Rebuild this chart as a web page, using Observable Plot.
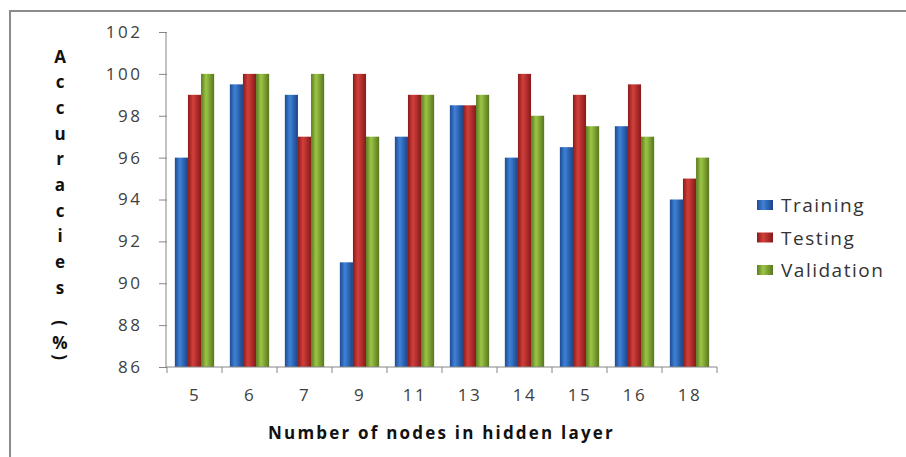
<!DOCTYPE html>
<html><head><meta charset="utf-8">
<script src="https://cdn.jsdelivr.net/npm/d3@7"></script>
<script src="https://cdn.jsdelivr.net/npm/@observablehq/plot@0.6"></script>
<style>
body{margin:0;background:#fff;}
svg text{font-family:"Open Sans",sans-serif;}
</style>
</head><body><div id="chart"></div>
<script>
const nodes = ["5","6","7","9","11","13","14","15","16","18"];
const seriesNames = ["Training","Testing","Validation"];
const training = [96, 99.5, 99, 91, 97, 98.5, 96, 96.5, 97.5, 94];
const testing = [99, 100, 97, 100, 99, 98.5, 100, 99, 99.5, 95];
const validation = [100, 100, 100, 97, 99, 99, 98, 97.5, 97, 96];
const yTicks = [86, 88, 90, 92, 94, 96, 98, 100, 102];
const yTitleChars = ["A","c","c","u","r","a","c","i","e","s"];
const xTitle = "Number of nodes in hidden layer";

const gradStops = {
  Training: ["#1d4a92", "#3f82d8", "#1a4386"],
  Testing: ["#8a1b1a", "#d23f3b", "#861a19"],
  Validation: ["#5b7b1f", "#9cc646", "#58761e"]
};
const gradId = s => "grad-" + s;

const values = {Training: training, Testing: testing, Validation: validation};
const table = nodes.flatMap((n, i) => seriesNames.map(s => ({node: n, series: s, value: values[s][i]})));

const plot = Plot.plot({
  width: 906,
  height: 457,
  marginTop: 32,
  marginBottom: 90,
  marginLeft: 166,
  marginRight: 189,
  style: {background: "#fff", overflow: "visible"},
  fx: {domain: nodes, padding: 0},
  x: {domain: seriesNames, paddingInner: 0, paddingOuter: 0.6, round: false, axis: null},
  y: {domain: [86, 102]},
  color: {domain: seriesNames, range: seriesNames.map(s => `url(#${gradId(s)})`)},
  marks: [
    Plot.barY(table, {fx: "node", x: "series", y1: 86, y2: "value", fill: "series", inset: 0}),
    Plot.axisY({ticks: yTicks, tickSize: 8, tickPadding: 17, fontSize: 17, stroke: "#868686", fill: "#404040", label: null}),
    Plot.axisFx({anchor: "bottom", tickSize: 0, tickPadding: 21, fontSize: 17, fill: "#404040", label: null})
  ]
});

document.getElementById("chart").appendChild(plot);

const svg = d3.select(plot);
const defs = svg.insert("defs", ":first-child");
seriesNames.forEach(s => {
  const g = defs.append("linearGradient").attr("id", gradId(s)).attr("x1", 0).attr("x2", 1).attr("y1", 0).attr("y2", 0);
  g.append("stop").attr("offset", "0%").attr("stop-color", gradStops[s][0]);
  g.append("stop").attr("offset", "38%").attr("stop-color", gradStops[s][1]);
  g.append("stop").attr("offset", "100%").attr("stop-color", gradStops[s][2]);
});

svg.selectAll("[aria-label='y-axis tick label'] text, [aria-label='fx-axis tick label'] text").style("letter-spacing", "2.5px");

const fx = plot.scale("fx");
const y = plot.scale("y");
const x0 = fx.range[0], x1 = fx.range[1];
const yb = y.apply(86), yt = y.apply(102);
const axisColor = "#868686";
const overlay = svg.append("g").attr("text-anchor", "start");
overlay.append("line").attr("x1", x0).attr("x2", x0).attr("y1", yt).attr("y2", yb).attr("stroke", axisColor);
overlay.append("line").attr("x1", x0).attr("x2", x1).attr("y1", yb).attr("y2", yb).attr("stroke", axisColor);
const bounds = nodes.map(n => fx.apply(n)).concat([fx.apply(nodes[nodes.length - 1]) + fx.bandwidth]);
bounds.forEach(bx => overlay.append("line").attr("x1", bx).attr("x2", bx).attr("y1", yb).attr("y2", yb + 6).attr("stroke", axisColor));

// outer frame
overlay.append("path").attr("d", "M906,11H10V457").attr("fill", "none").attr("stroke", "#8c8c8c").attr("stroke-width", 2);

// y title (stacked letters)
const yt0 = 56, ystep = 25.7;
yTitleChars.forEach((c, i) => overlay.append("text").attr("x", 60).attr("y", yt0 + i * ystep)
  .attr("text-anchor", "middle").attr("dominant-baseline", "central")
  .attr("font-size", 17).attr("font-weight", "bold").attr("fill", "#111").text(c));
[["(", 323], ["%", 342], [")", 357]].forEach(([c, cy]) => {
  const t = overlay.append("text").attr("text-anchor", "middle").attr("dominant-baseline", "central")
    .attr("font-size", 17).attr("font-weight", "bold").attr("fill", "#111").text(c);
  if (c === "%") t.attr("x", 60).attr("y", cy);
  else t.attr("transform", `translate(60,${cy}) rotate(90)`);
});

// x title
overlay.append("text").attr("x", (x0 + x1) / 2).attr("y", 432).attr("text-anchor", "middle")
  .attr("dominant-baseline", "central").attr("font-size", 17).attr("font-weight", "bold")
  .attr("fill", "#111").style("letter-spacing", "2.2px").text(xTitle);

// legend
const legend = overlay.append("g");
seriesNames.forEach((s, i) => {
  const cy = 205 + i * 32.5;
  legend.append("rect").attr("x", 757).attr("y", cy - 5).attr("width", 16).attr("height", 10).attr("fill", `url(#${gradId(s)})`);
  legend.append("text").attr("x", 781).attr("y", cy).attr("text-anchor", "start").attr("dominant-baseline", "central")
    .attr("font-size", 19).attr("fill", "#333").style("letter-spacing", "1.5px").text(s);
});
</script>
</body></html>
